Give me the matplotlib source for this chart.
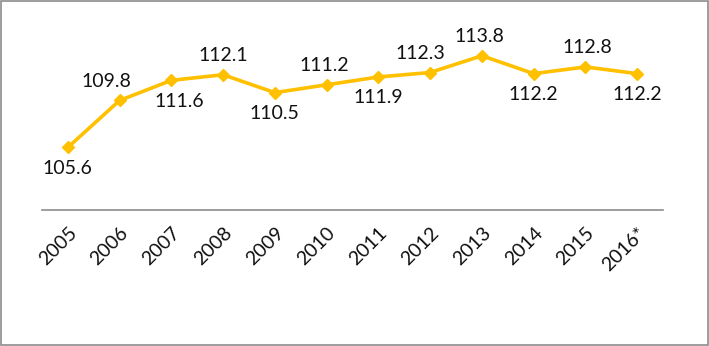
import matplotlib
matplotlib.use("Agg")
import matplotlib.pyplot as plt
from matplotlib.patches import Rectangle

years = ["2005", "2006", "2007", "2008", "2009", "2010",
         "2011", "2012", "2013", "2014", "2015", "2016*"]
values = [105.6, 109.8, 111.6, 112.1, 110.5, 111.2,
          111.9, 112.3, 113.8, 112.2, 112.8, 112.2]
# label placement: True = above the point
above = [False, True, False, True, False, True,
         False, True, True, False, True, False]
# small horizontal nudges of some labels (pixels)
nudge = [0, -13, 8, 0, 0, -2, 0, -10, -3, 0, 2, 0]

plt.rcParams['font.family'] = ['Lato', 'DejaVu Sans']

fig = plt.figure(figsize=(7.09, 3.46), dpi=100)
ax = fig.add_axes([0.0592, 0.393, 0.876, 0.517])

x = list(range(len(years)))
ax.plot(x, values, color="#FFC000", linewidth=2.6, marker="D",
        markersize=6.5, zorder=3)

for i, v in enumerate(values):
    dy = 19 if above[i] else -21
    ax.annotate(f"{v:.1f}", (i, v), xytext=(nudge[i], dy), textcoords="offset pixels",
                ha="center", va="center", fontsize=14, color="#111111")

ax.set_xlim(-0.5, len(years) - 0.5)
ax.set_ylim(100, 116)
ax.set_xticks(x)
ax.set_xticklabels(years, rotation=45, ha="right", rotation_mode="anchor",
                   fontsize=14, color="#111111")
ax.tick_params(axis="x", length=0, pad=10)
ax.set_yticks([])
for s in ["top", "right", "left"]:
    ax.spines[s].set_visible(False)
ax.spines["bottom"].set_color("#8c8c8c")
ax.spines["bottom"].set_linewidth(1.2)

fig.patches.append(Rectangle((0.001, 0.002), 0.997, 0.995, transform=fig.transFigure,
                             fill=False, edgecolor="#8c8c8c", linewidth=1.2))

fig.savefig("out.png", dpi=100)
